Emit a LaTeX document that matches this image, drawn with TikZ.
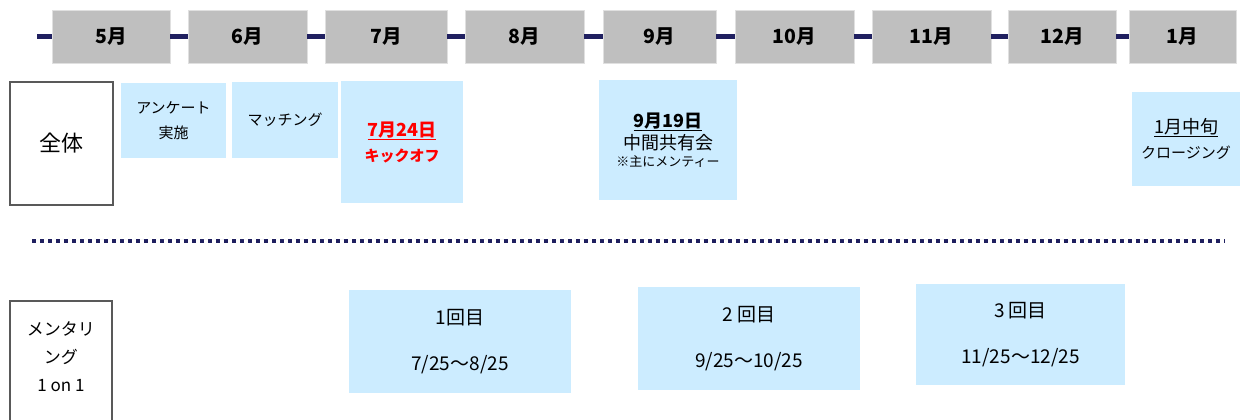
\documentclass[tikz,border=0pt]{standalone}
\usepackage{fontspec}
\setmainfont{Noto Sans CJK JP}
\usetikzlibrary{positioning}
\definecolor{navy}{RGB}{32,32,96}
\definecolor{evblue}{RGB}{204,236,255}
\definecolor{monthgray}{RGB}{191,191,191}
\definecolor{framegray}{RGB}{89,89,89}
\tikzset{monthbox/.style={fill=monthgray, draw=black!12, line width=0.6pt, minimum height=53pt, inner sep=0pt, font=\fontsize{19.5}{22}\selectfont\bfseries}}
\tikzset{evbox/.style={fill=evblue, inner sep=0pt, align=center, font=\fontsize{15}{25}\selectfont}}
\tikzset{rowbox/.style={draw=framegray, line width=2pt, fill=white, inner sep=0pt, align=center}}
\tikzset{navyline/.style={draw=navy, line width=5pt}}
\tikzset{navydots/.style={draw=navy, line width=4pt, dash pattern=on 4pt off 4pt}}
\newcommand{\bigline}{\fontsize{18}{22}\selectfont}

\begin{document}
\begin{tikzpicture}[x=1pt, y=-1pt]
	\useasboundingbox (0,0) rectangle (1240,420);
	% months
	\coordinate (lstart) at (37,37);
	\node[monthbox, minimum width=118pt] (m5) at (111,37) {5月};
	\node[monthbox, minimum width=119pt] (m6) at (247.5,37) {6月};
	\node[monthbox, minimum width=122pt] (m7) at (386,37) {7月};
	\node[monthbox, minimum width=119pt] (m8) at (524.5,37) {8月};
	\node[monthbox, minimum width=113pt] (m9) at (659.5,37) {9月};
	\node[monthbox, minimum width=119pt] (m10) at (794.5,37) {10月};
	\node[monthbox, minimum width=119pt] (m11) at (931.5,37) {11月};
	\node[monthbox, minimum width=108pt] (m12) at (1062,37) {12月};
	\node[monthbox, minimum width=107pt] (m1) at (1182.5,37) {1月};
	\draw[navyline] (lstart) -- (m5);
	\draw[navyline] (m5) -- (m6);
	\draw[navyline] (m6) -- (m7);
	\draw[navyline] (m7) -- (m8);
	\draw[navyline] (m8) -- (m9);
	\draw[navyline] (m9) -- (m10);
	\draw[navyline] (m10) -- (m11);
	\draw[navyline] (m11) -- (m12);
	\draw[navyline] (m12) -- (m1);
%
	\node[rowbox, minimum width=103pt, minimum height=122pt, font=\fontsize{22}{26}\selectfont] (all) at (61,143.5) {全体};
	\node[evbox, minimum width=105pt, minimum height=75pt] (survey) at (173.5,120.5) {アンケート\\実施};
	\node[evbox, minimum width=106pt, minimum height=76pt] (match) at (285,120) {マッチング};
	\node[evbox, minimum width=122pt, minimum height=122pt, text=red, font=\fontsize{15}{25}\selectfont\bfseries] (kickoff) at (402,142) {{\bigline\underline{7月24日}}\\キックオフ};
	\node[evbox, minimum width=138pt, minimum height=120pt] (midterm) at (668,140) {{\bigline\textbf{\underline{9月19日}}}\\[-3pt]{\bigline 中間共有会}\\[-8pt]{\fontsize{13}{16}\selectfont ※主にメンティー}};
	\node[evbox, minimum width=108pt, minimum height=94pt] (closing) at (1186,139) {{\bigline\underline{1月中旬}}\\クロージング};
%
	\coordinate (dstart) at (32,241);
	\coordinate (dend) at (1225,241);
	\draw[navydots] (dstart) -- (dend);
%
	\node[rowbox, minimum width=102pt, minimum height=130pt] (mentor) at (61,366) {};
	\node[align=center, font=\fontsize{17}{28}\selectfont] (mentortxt) at (61,357) {メンタリ\\ング\\1 on 1};
	\node[evbox, minimum width=222pt, minimum height=103pt, font=\fontsize{19}{46}\selectfont] (r1) at (460,341.5) {1回目\\7/25〜8/25};
	\node[evbox, minimum width=222pt, minimum height=103pt, font=\fontsize{19}{46}\selectfont] (r2) at (749,338.5) {2 回目\\9/25〜10/25};
	\node[evbox, minimum width=209pt, minimum height=101pt, font=\fontsize{19}{46}\selectfont] (r3) at (1020.5,334.5) {3 回目\\11/25〜12/25};
\end{tikzpicture}
\end{document}
